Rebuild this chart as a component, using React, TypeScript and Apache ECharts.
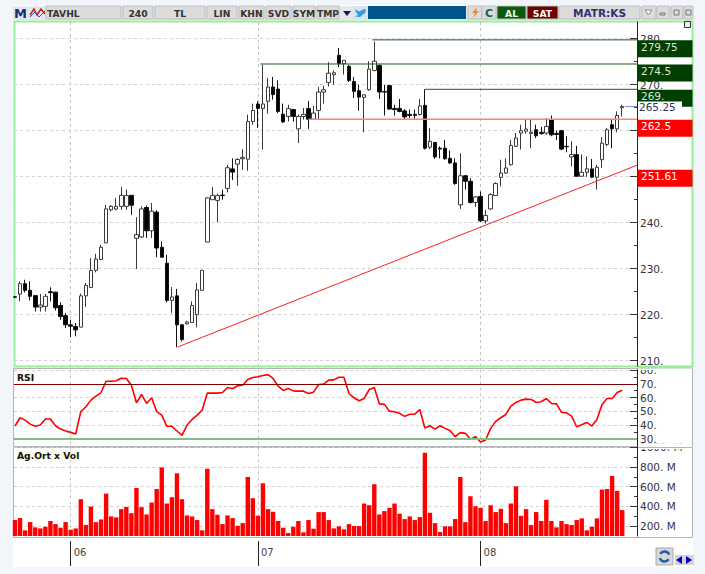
import React, { useEffect, useRef } from "react";
import * as echarts from "echarts";

// open, close, low, high
const candles: number[][] = [
  [223.9,223.8,223.6,224.1],[224.5,226.75,222.9,227.25],[226.75,225.3,224.85,227.6],[225.3,224,223.1,227.25],
  [224.15,221.65,220.7,224.2],[221.65,222.1,220.7,224.5],[221.8,224,220.7,224.5],[225,224.8,222.9,225.95],
  [224.9,221.5,220.9,225],[222,219.6,218.9,222.7],[219.8,217.8,217.1,220.4],[217.8,217.5,215.15,218.9],
  [217.45,216.7,215.3,218.2],[217.3,224.1,217.3,224.6],[224.1,226.4,221.7,226.9],[225.9,229.6,225.8,232.3],
  [229.65,232.1,229.2,233.25],[232,234.65,232,235.2],[235.6,243,235.6,243.9],[242.8,243.55,242.45,243.85],
  [242.97,243.55,242.7,245.4],[243.55,245.95,242.8,247.75],[243.55,245.9,242.8,247.2],[245.95,243.8,241.7,245.95],
  [236.6,237.4,229.9,241.2],[236.9,243,236.7,243.55],[243.3,238.25,236.7,243.7],[238.25,242.5,236.7,244.3],
  [242.3,234.5,232.5,242.7],[234.65,232.5,232.5,235.95],[231.2,223.1,222.7,233],[223.1,223.85,220.4,226],
  [224.1,217.8,212.9,225.6],[217.8,214.6,214.2,218],[218,218.4,217.9,218.7],[218.3,222,218.2,222.9],
  [220,225.4,217.25,226.9],[225.3,229.65,225.3,229.7],[235.8,245.4,235.8,245.5],[245,245.95,245,247.75],
  [244.85,245.9,240.1,246.3],[246,245.9,245,247.2],[247.45,251.95,246.6,252.6],[251.7,251,249.3,254],
  [252.75,253.75,248,254],[253.9,254.2,251.5,256],[253.8,262,251.3,263.5],[262,264.4,261.3,265.9],
  [265.8,264.85,260.6,266.4],[264.85,265.8,255.9,274.35],[266.4,269.5,263.7,271.45],[269.5,267.85,266.75,271.7],
  [269.05,264.2,263.85,270.95],[263.6,261.9,261.7,265.9],[263.1,264.8,262,265.65],[264.6,263.1,262,264.75],
  [260.4,263.1,257.3,263.5],[263.1,263.55,262.4,264.95],[264.8,262.5,260.4,266.5],[262.5,263.85,262.4,265.4],
  [264.4,268.4,262.4,269.5],[268.4,268.9,265.9,269.8],[270.5,272.5,269.6,274.9],[272.2,272.6,270,273.1],
  [276.4,274.6,273.85,278],[274.6,275.3,272.2,275.3],[274,270.9,270.6,274.35],[270.7,268.55,267.1,271.7],
  [268.7,267.3,264.35,270],[267.25,267.8,259.65,267.8],[268.9,273.4,268.7,275.1],[273.1,275.1,272.9,279.4],
  [274.2,268.4,266.9,274.35],[268.5,268.4,263.3,270],[269.8,264.7,264.6,270],[264.85,264.6,263.3,265.65],
  [264.85,264.2,264,266.9],[264.3,263,262.4,264.7],[263.55,263.3,262.75,264.6],[263.55,263.3,262.5,264.6],
  [263.5,265.4,263.3,266.9],[265.5,256.2,255.9,269],[256.4,257.7,256,260.6],[257.45,254.3,253.85,257.5],
  [256.2,256,254,256.6],[256.2,253.9,253.7,258],[254,253,252.8,255.7],[253,248.5,248.25,254],
  [243.9,250.2,243,255.1],[250.2,249,247.2,250.4],[249,244.4,244.15,249.7],[244.4,245.6,243.4,245.7],
  [245.7,240.4,240.15,246.8],[240.4,241.6,239.8,242.8],[243,246.1,242.8,246.45],[245.9,248.5,245.8,248.8],
  [249.85,250.8,247.9,253.7],[250.8,251.9,250.65,254],[252.6,256.8,252.4,258],[256.6,258.4,256.45,259.5],
  [259.5,260,255.9,261.3],[259.9,260.35,259.35,262.4],[259.4,259.7,256.2,262.4],[260.2,258.9,258.4,261.3],
  [259.65,259.4,259.1,260.8],[259.5,260.95,259.1,262.75],[262.4,259.1,258.8,263.3],[259.4,259.2,258,260],
  [260,256,255.75,260.2],[256.6,256.5,255.3,258.8],[254.3,254.8,252.25,257.7],[254.8,250.1,250,256.7],
  [250.1,250.95,250,254.8],[250.95,251.7,250,254.4],[251.7,249.9,249.7,253.85],[249.9,252.05,247.2,252.6],
  [253.7,257.3,251.9,258.6],[257,260.2,256.6,260.6],[261.3,260.4,256.2,262.4],[260.4,263.3,259.65,264.2],
  [265,265.25,263.1,265.65],
];

const rsiValues = [
  39.4,45.4,43.7,40.8,39.2,40.1,44.5,44.5,39.6,37.2,35.8,34.8,33.6,49.8,53.4,58.2,61.1,63.7,71.9,71.9,
  72.2,74.1,73.9,69,56.3,62.3,55.8,59.9,49.8,47.3,39.2,39.2,35.8,32.7,40.1,44.2,47.3,51,63.3,63.3,
  63.3,63.7,67.3,66.4,68.6,69,73.1,74.6,75.1,76,76.7,73.9,68.3,65.2,66.6,64.9,64.7,64.7,63,64,
  69.5,69.8,72.7,72.9,74.8,74.8,63,59.9,57.7,59.4,65.9,67.3,55.5,55.1,50.2,49.8,48.6,46.4,48,48,
  51.4,38,39.6,37.2,39.6,37.7,36,31.7,34.6,34.1,29.8,31.7,27.8,29.3,37.7,42.8,45.4,47.8,53.9,56.5,
  58.2,58.9,58.7,56.5,57,59.4,55.8,55.5,49.3,49,46.6,38.9,40.4,42,39.4,44.2,54.8,59.4,59.4,63.7,65.4,
];

const volumeValues = [
  261,281,156,240,187,176,193,251,220,183,240,163,176,473,210,399,240,267,530,298,
  288,372,395,331,588,392,318,439,577,796,429,493,736,473,308,298,261,156,783,372,
  315,220,308,281,203,230,699,483,304,635,372,345,251,183,129,193,251,136,261,173,
  342,342,261,176,197,166,220,200,200,429,412,625,318,352,385,429,325,271,298,261,
  291,945,335,230,139,197,197,271,699,240,503,402,385,251,412,342,375,230,429,604,
  304,372,210,342,251,466,251,187,251,220,210,261,278,156,193,278,571,577,709,557,362,
];

const priceTicks = [210, 220, 230, 240, 250, 260, 270, 280];
const priceLabels = [210, 220, 230, 240, 270, 280];
const priceMinor = [215, 225, 235, 245, 255, 265, 275];
const rsiTicks = [30, 40, 50, 60, 70, 80];
const rsiMinor = [35, 45, 55, 65, 75];
const volTicks = [200, 400, 600, 800, 1000];
const volMinor = [300, 500, 700, 900];
const monthTicks = [11, 48, 92];
const monthLabels = ["06", "07", "08"];

const X_END = 122.92;
const trendLine = [[32.2, 213], [X_END, 252.5]];
const resistance1 = [[70.6, 279.75], [X_END, 279.75]];
const resistance2 = [[48.5, 274.5], [X_END, 274.5]];
const resistance3 = [[81, 269], [X_END, 269]];
const support = [[58, 262.5], [X_END, 262.5]];
const lastLine = [[120.5, 265.25], [X_END, 265.25]];

const priceTags: [number, number, string, string, string][] = [
  [0, 279.75, "279.75", "#003f00", "#d8e8d8"],
  [0, 274.5, "274.5", "#003f00", "#d8e8d8"],
  [0, 269, "269.", "#003f00", "#d8e8d8"],
  [0, 262.5, "262.5", "#ff0000", "#ffffff"],
  [0, 251.61, "251.61", "#ff0000", "#ffffff"],
  [0, 265.25, "265.25", "#ffffff", "#30305a"],
];

const indices = candles.map((_, i) => i);
const UI_FONT = "'DejaVu Sans', Verdana, sans-serif";
const BTN_FONT = "bold 9.2px " + UI_FONT;

function btn(x: number, w: number, label: string, fill = "#dcdcdc", color = "#333", font = BTN_FONT): any[] {
  const out: any[] = [
    { type: "rect", shape: { x, y: 6, width: w, height: 13 }, style: { fill, stroke: "#bdbdbd", lineWidth: 1 } },
  ];
  if (label) {
    out.push({
      type: "text", x: x + w / 2, y: 13,
      style: { text: label, fill: color, font, align: "center", verticalAlign: "middle" },
    });
  }
  return out;
}

function chrome(): any[] {
  const els: any[] = [
    // page panels
    { type: "rect", z: -10, shape: { x: 13, y: 5, width: 680, height: 562 }, style: { fill: "#ffffff" } },
    { type: "rect", z: -10, shape: { x: 14.5, y: 21.5, width: 678, height: 345 }, style: { fill: "none", stroke: "#98ee98", lineWidth: 2 } },
    { type: "rect", z: -10, shape: { x: 13.5, y: 368.5, width: 679, height: 78 }, style: { fill: "none", stroke: "#b4b4b4", lineWidth: 1 } },
    { type: "rect", z: -10, shape: { x: 13.5, y: 447.5, width: 679, height: 90 }, style: { fill: "none", stroke: "#b4b4b4", lineWidth: 1 } },
    // clip strips for the half hidden axis labels
    { type: "rect", z: 50, shape: { x: 638, y: 366, width: 54, height: 2.5 }, style: { fill: "#98ee98" } },
    { type: "rect", z: 50, shape: { x: 638, y: 368.5, width: 54, height: 1.5 }, style: { fill: "#ffffff" } },
    { type: "rect", z: 50, shape: { x: 638, y: 443.2, width: 54, height: 5.8 }, style: { fill: "#ffffff" } },
    { type: "line", z: 51, shape: { x1: 638, y1: 447.5, x2: 692, y2: 447.5 }, style: { stroke: "#b4b4b4", lineWidth: 1 } },
    // toolbar
    { type: "rect", shape: { x: 13, y: 6, width: 680, height: 14 }, style: { fill: "#e4e8ec" } },
    { type: "rect", shape: { x: 368, y: 6, width: 98, height: 13 }, style: { fill: "#00558a" } },
    { type: "text", x: 14, y: 13, style: { text: "M", fill: "#1a2f6e", font: "bold 13px " + UI_FONT, verticalAlign: "middle" } },
    { type: "polyline", shape: { points: [[30, 15], [34, 9], [37, 15], [41, 9], [45, 14]] }, style: { stroke: "#c02020", lineWidth: 1.5, fill: "none" } },
    { type: "polyline", shape: { points: [[30, 17], [35, 12], [39, 17], [45, 11]] }, style: { stroke: "#3050a0", lineWidth: 1, fill: "none" } },
  ];
  const buttons: [number, number, string][] = [
    [46, 75, ""], [123, 30, "240"], [155, 50, "TL"], [207, 30, "LIN"], [239, 25, "KHN"],
    [266, 25, "SVD"], [293, 22, "SYM"], [317, 22, "TMP"],
  ];
  buttons.forEach(([x, w, t]) => els.push(...btn(x, w, t)));
  els.push({ type: "text", x: 47, y: 13, style: { text: "TAVHL", fill: "#333", font: BTN_FONT, verticalAlign: "middle" } });
  els.push({ type: "polygon", shape: { points: [[343, 11], [351, 11], [347, 16]] }, style: { fill: "#14145a" } });
  els.push({ type: "rect", shape: { x: 353, y: 6, width: 15, height: 13 }, style: { fill: "#d8e4ec" } });
  els.push({ type: "polygon", shape: { points: [[355, 9], [359, 11.5], [364, 9], [366, 9.5], [365, 13], [360, 17], [355, 16.5], [358, 15], [356, 12]] }, style: { fill: "#3a9bdc" } });
  els.push(...btn(468, 14, ""));
  els.push({ type: "polygon", shape: { points: [[477, 7], [472, 13], [475, 13], [473, 18], [479, 11], [476, 11]] }, style: { fill: "#e89020" } });
  els.push(...btn(482, 14, "C", "#dcdcdc", "#0f6b4a", "bold 11px " + UI_FONT));
  els.push(...btn(497, 29, "AL", "#0b5a0b", "#e8ffe8"));
  els.push(...btn(527, 31, "SAT", "#6e0000", "#ffffff"));
  els.push(...btn(559, 81, "MATR:KS", "#dcdcdc", "#2e2e72", "bold 10.5px " + UI_FONT));
  els.push(...btn(642, 14, ""), ...btn(657, 12, ""), ...btn(671, 12, ""), ...btn(684, 9, ""));
  els.push({ type: "polygon", shape: { points: [[645, 10], [652, 10], [648.5, 15]] }, style: { fill: "#ffffff", stroke: "#888" } });
  els.push({ type: "rect", shape: { x: 660, y: 13, width: 5, height: 2 }, style: { fill: "none", stroke: "#777" } });
  els.push({ type: "rect", shape: { x: 674, y: 10, width: 5, height: 5 }, style: { fill: "none", stroke: "#777" } });
  els.push({ type: "rect", shape: { x: 686, y: 10, width: 5, height: 5 }, style: { fill: "none", stroke: "#777" } });
  els.push({ type: "rect", shape: { x: 684.5, y: 21.5, width: 6, height: 6 }, style: { fill: "#eeeeee", stroke: "#333" } });
  // panel captions
  els.push({ type: "text", z: 40, x: 17, y: 377, style: { text: "RSI", fill: "#111", font: "bold 9.2px " + UI_FONT, verticalAlign: "middle", backgroundColor: "#fbfbe8" } });
  els.push({ type: "text", z: 40, x: 17, y: 455.5, style: { text: "Ag.Ort x Vol", fill: "#111", font: "bold 9.2px " + UI_FONT, verticalAlign: "middle", backgroundColor: "#fbfbe8" } });
  // bottom right buttons
  els.push({ type: "rect", shape: { x: 656, y: 548, width: 17, height: 17 }, style: { fill: "#d8d8d8", stroke: "#aaa" } });
  els.push({ type: "arc", shape: { cx: 664.5, cy: 556.5, r: 5, startAngle: 0.6, endAngle: 2.8 }, style: { stroke: "#1f5da8", lineWidth: 2.5, fill: "none" } });
  els.push({ type: "arc", shape: { cx: 664.5, cy: 556.5, r: 5, startAngle: 3.7, endAngle: 5.9 }, style: { stroke: "#1f5da8", lineWidth: 2.5, fill: "none" } });
  els.push({ type: "rect", shape: { x: 675, y: 555, width: 19, height: 10 }, style: { fill: "#d4d4d4" } });
  els.push({ type: "polygon", shape: { points: [[676, 560], [682, 556], [682, 564]] }, style: { fill: "#0000c8" } });
  els.push({ type: "polygon", shape: { points: [[692, 560], [686, 556], [686, 564]] }, style: { fill: "#0000c8" } });
  return els;
}

const gridLine = { show: true, lineStyle: { color: "#d2d2d2", type: [3, 3] as any, width: 1 } };
const axisFont = { color: "#33333f", fontFamily: UI_FONT, fontSize: 10.5, lineHeight: 8.5 };

function xAxisFor(gridIndex: number, labelled: boolean): any {
  return {
    type: "value", gridIndex, min: -0.2, max: X_END, offset: labelled ? 5 : 0,
    axisLine: { show: false, onZero: false },
    axisTick: labelled
      ? { show: true, customValues: monthTicks, length: 25, lineStyle: { color: "#222", width: 1 } }
      : { show: false, customValues: monthTicks },
    axisLabel: labelled
      ? {
          show: true, customValues: monthTicks, margin: 6, align: "left", padding: [0, 0, 0, 3],
          formatter: (v: number) => monthLabels[monthTicks.indexOf(v)] ?? "",
          color: "#444", fontFamily: UI_FONT, fontSize: 10,
        }
      : { show: false },
    splitLine: { show: true, lineStyle: { color: "#c4c4c4", type: [3, 3] as any, width: 1 } },
  };
}

function hiddenX(gridIndex: number): any {
  return { type: "value", gridIndex, min: -0.2, max: X_END, show: false, splitLine: { show: false } };
}

function yAxisMain(gridIndex: number, min: number, max: number, ticks: number[], labels: number[], fmt: (v: number) => string): any {
  return {
    type: "value", gridIndex, position: "right", min, max, scale: true,
    axisLine: { show: true, onZero: false, lineStyle: { color: "#222", width: 1 } },
    axisTick: { show: true, inside: true, length: 7, customValues: ticks, lineStyle: { color: "#333" } },
    axisLabel: { show: true, customValues: labels, margin: 3, formatter: fmt, showMinLabel: true, showMaxLabel: true, ...axisFont },
    splitLine: gridLine,
  };
}

function yAxisMinor(gridIndex: number, min: number, max: number, minor: number[]): any {
  return {
    type: "value", gridIndex, position: "right", min, max, scale: true,
    axisLine: { show: false, onZero: false },
    axisTick: { show: true, inside: true, length: 3, customValues: minor, lineStyle: { color: "#333" } },
    axisLabel: { show: false },
    splitLine: { show: false },
  };
}

function lineSeries(data: number[][], color: string, width: number): any {
  return {
    type: "line", xAxisIndex: 0, yAxisIndex: 0, data, symbol: "none", silent: true, z: 4,
    lineStyle: { color, width },
  };
}

const PRICE_MIN = 208.85, PRICE_MAX = 283.63;
const RSI_MIN = 24.2, RSI_MAX = 80.4;
const VOL_MIN = 98.8, VOL_MAX = 1000;

export default function App() {
  const ref = useRef<HTMLDivElement>(null);
  useEffect(() => {
    const chart = echarts.init(ref.current!, null, { renderer: "svg" });
    const panels = [
      { left: 14, top: 22, width: 623, height: 344 },
      { left: 14, top: 369.5, width: 623, height: 77.5 },
      { left: 14, top: 447.4, width: 623, height: 88.6 },
    ];
    const option: any = {
      animation: false,
      backgroundColor: "#f2f6fb",
      grid: [...panels, ...panels],
      xAxis: [xAxisFor(0, false), xAxisFor(1, false), xAxisFor(2, true), hiddenX(3), hiddenX(4), hiddenX(5)],
      yAxis: [
        yAxisMain(0, PRICE_MIN, PRICE_MAX, priceTicks, priceLabels, (v) => `${v}.`),
        yAxisMain(1, RSI_MIN, RSI_MAX, rsiTicks, rsiTicks, (v) => `${v}.`),
        yAxisMain(2, VOL_MIN, VOL_MAX, volTicks, volTicks, (v) => `${v}. M`),
        yAxisMinor(3, PRICE_MIN, PRICE_MAX, priceMinor),
        yAxisMinor(4, RSI_MIN, RSI_MAX, rsiMinor),
        yAxisMinor(5, VOL_MIN, VOL_MAX, volMinor),
      ],
      graphic: { elements: chrome() },
      series: [
        {
          type: "candlestick", xAxisIndex: 0, yAxisIndex: 0, z: 3, barWidth: 4, clip: true,
          data: indices.map((i) => [i, ...candles[i]]),
          encode: { x: 0, y: [1, 2, 3, 4] },
          itemStyle: { color: "#ffffff", color0: "#000000", borderColor: "#3a3a3a", borderColor0: "#111111", borderWidth: 1 },
        },
        lineSeries(trendLine, "#ff2020", 1),
        lineSeries(resistance1, "#1f5a1f", 1),
        lineSeries(resistance2, "#1f5a1f", 1),
        lineSeries(resistance3, "#1f5a1f", 1),
        lineSeries(support, "#ff8080", 1.6),
        lineSeries(lastLine, "#8a8ab8", 1),
        {
          type: "custom", xAxisIndex: 0, yAxisIndex: 0, z: 10, silent: true, clip: false,
          data: priceTags,
          encode: { x: 0, y: 1 },
          renderItem: (params: any, api: any) => {
            const tag = priceTags[params.dataIndex];
            const y = api.coord([0, tag[1]])[1];
            const isLast = tag[3] === "#ffffff";
            const top = isLast ? y - 5 : y + 0.5;
            const h = isLast ? 9.5 : 17;
            return {
              type: "group",
              children: [
                { type: "rect", shape: { x: isLast ? 638 : 637.5, y: top, width: isLast ? 44 : 55, height: h }, style: { fill: tag[3] } },
                {
                  type: "text", x: isLast ? 639 : 641, y: isLast ? y : top + 6.5,
                  style: { text: tag[2], fill: tag[4], font: "10.5px " + UI_FONT, lineHeight: 8, verticalAlign: "middle", align: "left" },
                },
              ],
            };
          },
        },
        {
          type: "line", xAxisIndex: 1, yAxisIndex: 1, symbol: "none", z: 4,
          data: indices.map((i) => [i, rsiValues[i]]),
          lineStyle: { color: "#ff0000", width: 1.6 },
          markLine: {
            symbol: "none", silent: true, label: { show: false },
            data: [
              { yAxis: 70, lineStyle: { color: "#800000", width: 1, type: "solid" } },
              { yAxis: 30, lineStyle: { color: "#80c080", width: 2, type: "solid" } },
            ],
          },
        },
        {
          type: "bar", xAxisIndex: 2, yAxisIndex: 2, barWidth: 4.4, z: 3,
          data: indices.map((i) => [i, volumeValues[i]]),
          itemStyle: { color: "#ff0000" },
        },
      ],
    };
    chart.setOption(option);
    return () => chart.dispose();
  }, []);
  return <div ref={ref} style={{ position: "fixed", left: 0, top: 0, width: 705, height: 574 }} />;
}
